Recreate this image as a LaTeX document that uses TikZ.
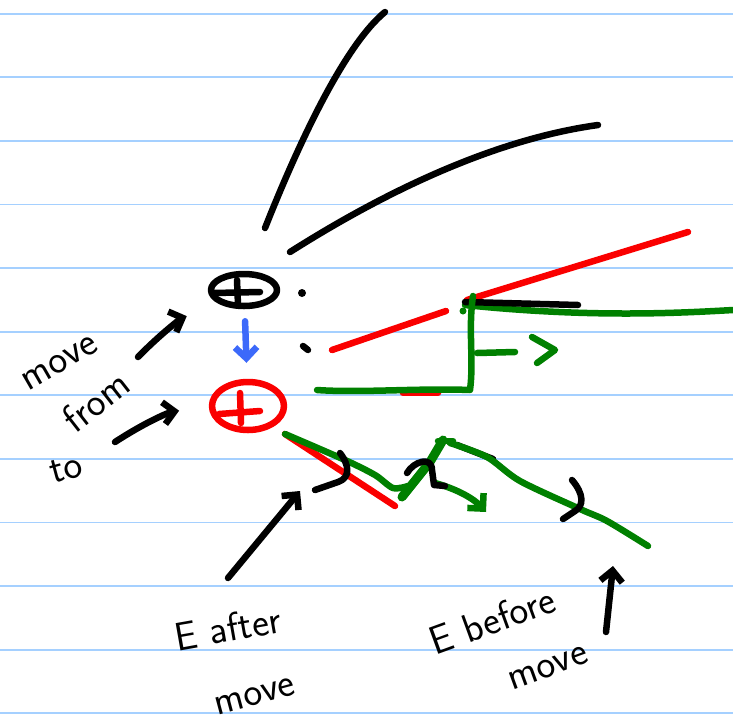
\documentclass[tikz,border=0pt]{standalone}
\usetikzlibrary{arrows.meta}
\usetikzlibrary{shapes.geometric}
\definecolor{rulecol}{RGB}{165,208,255}
\definecolor{penred}{RGB}{250,0,0}
\definecolor{pengreen}{RGB}{0,128,0}
\definecolor{penblue}{RGB}{60,105,250}

\begin{document}
\begin{tikzpicture}[x=1pt, y=-1pt, line cap=round, line join=round,
    pen/.style={line width=6.5pt},
    tip/.style={-{Straight Barb[length=11pt, width=22pt]}},
    hand/.style={font=\fontsize{40}{40}\selectfont\sffamily, inner sep=0pt}]
    \useasboundingbox (0,0) rectangle (733,723);
    % ruled paper
    \foreach \k in {0,...,11}
        \draw [rulecol, line width=1.8pt] (0, 13.7+63.6*\k) -- (733, 13.7+63.6*\k);
    % positions before and after the move
    \node [pen, draw, ellipse, minimum width=66, minimum height=32] (old) at (244,290) {};
    \draw [pen] (214,293) -- (260,292) (237,280) -- (238,305);
    \node [pen, draw=penred, ellipse, minimum width=72, minimum height=48] (new) at (248,406) {};
    \draw [pen, penred] (219,414) -- (260,411) (240,393) -- (241,423);
    \draw [pen, penblue, tip, shorten <=12pt, shorten >=16pt] (old) to (new);
    % labels on the left
    \node [hand, rotate=30] (move) at (60,363) {move};
    \node [hand, rotate=38] (from) at (96,401) {from};
    \node [hand, rotate=15] (to) at (66,469) {to};
    \coordinate (movetail) at (138,357);
    \coordinate (totail) at (115,442);
    \draw [pen, tip, shorten >=34pt] (movetail) to[bend left=12] (old.south west);
    \draw [pen, tip, shorten >=30pt] (totail) to[bend left=12] (new.west);
    % black lines, top
    \draw [pen] (265,228) .. controls (300,140) and (345,45) .. (385,12);
    \draw [pen] (290,252) .. controls (380,195) and (490,140) .. (598,125);
    \fill (302,293) circle (4);
    \draw [pen] (303,346) -- (308,350);
    % red and green, right
    \draw [pen, penred] (332,350) -- (446,311);
    \draw [pen, penred] (467,300) -- (688,232);
    \draw [pen, penred] (403,393) -- (438,393);
    \draw [pen, pengreen] (465,305) .. controls (590,318) and (680,313) .. (733,310);
    \draw [pen, black] (465,302) -- (578,305);
    \draw [pen, pengreen] (473,296) .. controls (468,330) and (474,360) .. (470,390)
        .. controls (420,388) and (360,393) .. (317,390);
    \draw [pen, pengreen] (477,353) -- (515,352);
    \draw [pen, pengreen] (532,337) -- (555,350) -- (537,363);
    \fill [pengreen] (463,311) circle (3.5);
    % lower part
    \draw [pen, penred] (285,434) -- (395,506);
    \draw [pen] (457,445) -- (493,459);
    \draw [pen, pengreen] plot [smooth] coordinates {(285,434) (345,460) (375,475) (393,488) (408,486)};
    \draw [pen, pengreen, line width=9pt] (402,497) -- (430,462) -- (443,440);
    \draw [pen, pengreen] (438,441) -- (453,441);
    \draw [pen, pengreen] plot [smooth] coordinates {(450,443) (487,457) (520,481) (580,509) (607,521) (648,546)};
    \draw [pen, pengreen, tip] (435,483) .. controls (460,490) and (475,500) .. (486,512);
    \draw [pen] (340,453) .. controls (350,466) and (350,478) .. (338,482) -- (315,490);
    \draw [pen] (407,473) .. controls (414,461) and (432,456) .. (432,470) -- (434,485) -- (445,486);
    \draw [pen] (572,480) .. controls (584,494) and (584,506) .. (575,511) -- (563,519);
    % labels below
    \node [hand, rotate=10] (after) at (228,628) {E after};
    \node [hand, rotate=15] (aftermove) at (255,696) {move};
    \node [hand, rotate=20] (before) at (492,620) {E before};
    \node [hand, rotate=20] (beforemove) at (548,668) {move};
    \coordinate (aftertail) at (228,578);
    \coordinate (aftertip) at (300,491);
    \coordinate (beforetail) at (606,632);
    \coordinate (beforetip) at (613,566);
    \draw [pen, tip] (aftertail) to (aftertip);
    \draw [pen, tip] (beforetail) to (beforetip);
\end{tikzpicture}
\end{document}
